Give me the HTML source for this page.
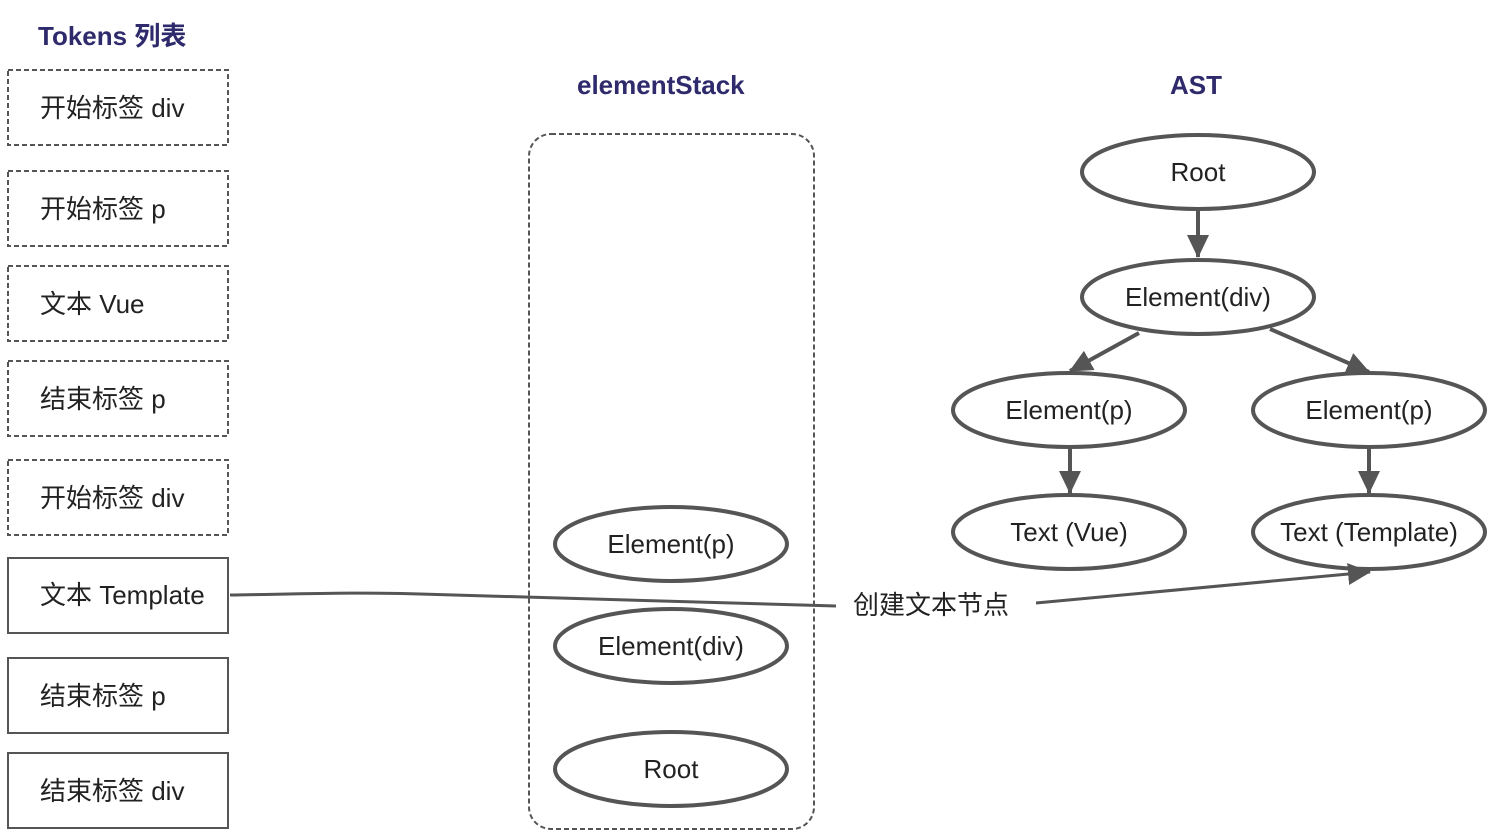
<!DOCTYPE html>
<html><head><meta charset="utf-8"><style>
body{margin:0;background:#fff;}
svg{display:block;}
text{font-family:"Liberation Sans","Noto Sans CJK SC",sans-serif;fill:#222;}
.t{font-size:26px;}
.h{font-size:26px;font-weight:bold;fill:#2e2a6b;}
</style></head><body>
<svg width="1494" height="834" viewBox="0 0 1494 834" xmlns="http://www.w3.org/2000/svg">
<defs><marker id="a" markerWidth="10" markerHeight="10" refX="9" refY="5" orient="auto" markerUnits="userSpaceOnUse" viewBox="0 0 10 10"><path d="M0,0 L10,5 L0,10z" fill="#555"/></marker>
<marker id="b" markerWidth="24" markerHeight="22" refX="22" refY="11" orient="auto" markerUnits="userSpaceOnUse"><path d="M0,0 L23,11 L0,22z" fill="#555"/></marker></defs>
<text class="h" x="38" y="45">Tokens 列表</text>
<text class="h" x="577" y="94">elementStack</text>
<text class="h" x="1170" y="94">AST</text>
<g fill="none" stroke="#555" stroke-width="2">
<rect x="8" y="70" width="220" height="75" stroke-dasharray="5,3"/>
<rect x="8" y="171" width="220" height="75" stroke-dasharray="5,3"/>
<rect x="8" y="266" width="220" height="75" stroke-dasharray="5,3"/>
<rect x="8" y="361" width="220" height="75" stroke-dasharray="5,3"/>
<rect x="8" y="460" width="220" height="75" stroke-dasharray="5,3"/>
<rect x="8" y="558" width="220" height="75"/>
<rect x="8" y="658" width="220" height="75"/>
<rect x="8" y="753" width="220" height="75"/>
<rect x="529" y="134" width="285" height="695" rx="22" stroke-dasharray="5,3"/>
</g>
<g class="t">
<text x="40" y="117">开始标签 div</text>
<text x="40" y="218">开始标签 p</text>
<text x="40" y="313">文本 Vue</text>
<text x="40" y="408">结束标签 p</text>
<text x="40" y="507">开始标签 div</text>
<text x="40" y="604">文本 Template</text>
<text x="40" y="705">结束标签 p</text>
<text x="40" y="800">结束标签 div</text>
</g>
<g fill="none" stroke="#555" stroke-width="4">
<ellipse cx="671" cy="544" rx="116" ry="37"/>
<ellipse cx="671" cy="646" rx="116" ry="37"/>
<ellipse cx="671" cy="769" rx="116" ry="37"/>
<ellipse cx="1198" cy="172" rx="116" ry="37"/>
<ellipse cx="1198" cy="297" rx="116" ry="37"/>
<ellipse cx="1069" cy="410" rx="116" ry="37"/>
<ellipse cx="1369" cy="410" rx="116" ry="37"/>
<ellipse cx="1069" cy="532" rx="116" ry="37"/>
<ellipse cx="1369" cy="532" rx="116" ry="37"/>
</g>
<g stroke="#555" stroke-width="4" fill="none">
<line x1="1198" y1="210" x2="1198" y2="257" marker-end="url(#b)"/>
<line x1="1139" y1="333" x2="1070" y2="371" marker-end="url(#b)"/>
<line x1="1270" y1="329" x2="1369" y2="372" marker-end="url(#b)"/>
<line x1="1070" y1="448" x2="1070" y2="493" marker-end="url(#b)"/>
<line x1="1369" y1="448" x2="1369" y2="493" marker-end="url(#b)"/>
<path d="M230,595 C300,594 360,592 420,594 L836,606" stroke-width="3"/>
<line x1="1036" y1="603" x2="1370" y2="572" stroke-width="3" marker-end="url(#b)"/>
</g>
<g class="t" text-anchor="middle">
<text x="671" y="553">Element(p)</text>
<text x="671" y="655">Element(div)</text>
<text x="671" y="778">Root</text>
<text x="1198" y="181">Root</text>
<text x="1198" y="306">Element(div)</text>
<text x="1069" y="419">Element(p)</text>
<text x="1369" y="419">Element(p)</text>
<text x="1069" y="541">Text (Vue)</text>
<text x="1369" y="541">Text (Template)</text>
</g>
<text class="t" x="853" y="614">创建文本节点</text>
</svg>
</body></html>
